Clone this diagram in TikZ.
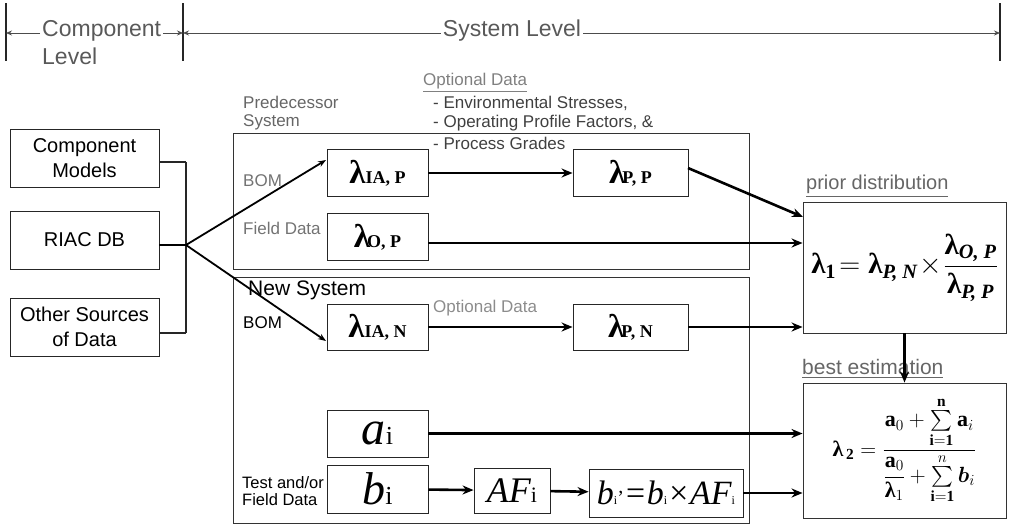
\RequirePackage{fix-cm}
\documentclass[tikz,border=0pt]{standalone}
\usepackage{amsmath}
\usepackage{fontspec}
\setmainfont{Liberation Serif}
\newfontfamily\arial{Liberation Sans}
\usetikzlibrary{arrows.meta}
\newcommand{\fs}[1]{\fontsize{#1}{#1}\selectfont}
\newcommand{\fsb}[2]{\fontsize{#1}{#2}\selectfont}
\newcommand{\lamsub}[2][0pt]{{\fs{33}\bfseries λ}\kern#1{\fs{18}\bfseries #2}}
\newcommand{\Lb}{\text{\bfseries λ}}
\tikzset{
  hdr/.style={font=\arial\fs{23}, text=black!65, inner sep=2pt},
  lbl/.style={font=\arial\fs{17}, inner sep=0pt, anchor=west, align=left},
  srcbox/.style={draw=black!85, line width=0.9pt, minimum width=149pt, minimum height=58pt, font=\arial\fsb{20}{25}, align=center, inner sep=0pt},
  mbox/.style={draw=black!85, line width=0.9pt, inner sep=0pt, minimum height=47pt},
  frame/.style={draw=black!80, line width=0.9pt, inner sep=0pt},
  hline/.style={line width=0.8pt, draw=black!70, -{Stealth[length=6pt,width=5pt]}},
  bar/.style={line width=1.6pt, draw=black!85},
  thinconn/.style={line width=1.5pt, draw=black!85},
  conn/.style={line width=2.6pt, draw=black, -{Stealth[length=11pt,width=9pt]}},
  fanconn/.style={line width=1.8pt, draw=black, -{Stealth[length=8pt,width=6pt]}}
}
\begin{document}
\begin{tikzpicture}[x=1pt,y=-1pt]
\useasboundingbox (0,0) rectangle (1012,528);
% ---------- header ----------
\coordinate (b1t) at (6,3);   \coordinate (b1b) at (6,61);   \coordinate (b1m) at (6,33);
\coordinate (b2t) at (183,3); \coordinate (b2b) at (183,61); \coordinate (b2m) at (183,33);
\coordinate (b3t) at (1000,3);\coordinate (b3b) at (1000,61);\coordinate (b3m) at (1000,33);
\draw[bar] (b1t) -- (b1b);
\draw[bar] (b2t) -- (b2b);
\draw[bar] (b3t) -- (b3b);
\node[hdr, anchor=west] (compL) at (40,31) {Component};
\node[hdr, anchor=west] (compL2) at (40,56) {Level};
\node[hdr] (sysL) at (512,31) {System Level};
\draw[hline] (compL.west |- b1m) -- (b1m);
\draw[hline] (compL.east |- b2m) -- (b2m);
\draw[hline] (sysL.west |- b2m) -- (b2m);
\draw[hline] (sysL.east |- b3m) -- (b3m);
% ---------- source boxes ----------
\node[srcbox] (cm) at (84.5,158) {Component\\Models};
\node[srcbox] (riac) at (84.5,240) {RIAC DB};
\node[srcbox] (other) at (84.5,327) {Other Sources\\of Data};
\coordinate (busT) at (186,162);
\coordinate (busM) at (186,245);
\coordinate (busB) at (186,333);
\draw[thinconn] (cm.east |- busT) -- (busT);
\draw[thinconn] (other.east |- busB) -- (busB);
\draw[thinconn] (busT) -- (busB);
\draw[line width=2pt] (riac.east |- busM) -- (busM);
% ---------- frames ----------
\node[frame, minimum width=516pt, minimum height=136pt] (pred) at (491,201) {};
\node[frame, minimum width=516pt, minimum height=246pt] (newsys) at (491,400) {};
\node[lbl, anchor=north west, text=black!60, font=\arial\fsb{17}{18}] (predL) at (243,96) {Predecessor\\System};
\node[lbl, text=black!50, font=\arial\fs{17}] (optU) at (423,83) {\underline{Optional Data}};
\node[lbl, text=black!75] (env) at (433,103) {- Environmental Stresses,};
\node[lbl, text=black!75] (opf) at (433,123) {- Operating Profile Factors, \&};
\node[lbl, text=black!75] (pgr) at (433,143) {- Process Grades};
\node[lbl, text=black!55] (bomU) at (243,181) {BOM};
\node[lbl, text=black!55] (fdU) at (243,228) {Field Data};
\node[lbl, font=\arial\fs{21}] (newL) at (248,290) {New System};
\node[lbl] (bomN) at (243,323) {BOM};
\node[lbl, text=black!45] (optN) at (433,308) {Optional Data};
\node[lbl, font=\arial\fsb{16.5}{17}] (tfd) at (242,491) {Test and/or\\Field Data};
% ---------- lambda boxes ----------
\node[mbox, minimum width=101pt] (lIAP) at (377.5,173) {\lamsub{IA, P}};
\node[mbox, minimum width=115pt] (lPP) at (630.5,173) {\lamsub[-3pt]{P, P}};
\node[mbox, minimum width=101pt] (lOP) at (377.5,237) {\lamsub[-3pt]{O, P}};
\node[mbox, minimum width=101pt, minimum height=46pt] (lIAN) at (377.5,327) {\lamsub{IA, N}};
\node[mbox, minimum width=115pt, minimum height=46pt] (lPN) at (630.5,327) {\lamsub[-3pt]{P, N}};
\node[mbox, minimum width=101pt] (ai) at (377.5,433.5) {{\fs{48}\itshape a}{\fs{26}i}};
\node[mbox, minimum width=101pt, minimum height=48pt] (bi) at (377.5,489) {{\fs{46}\itshape b}{\fs{26}i}};
\node[mbox, minimum width=76pt, minimum height=45pt] (afi) at (512,490.5) {{\fs{36}\itshape AF}{\fs{22}i}};
\node[mbox, minimum width=154pt, minimum height=48pt] (bpi) at (666,493) {\fs{34}\itshape b{\fs{12}\upshape i}{\fs{20}\upshape '}=b{\fs{12}\upshape i}×AF{\fs{12}\upshape i}};
% ---------- result boxes ----------
\node[lbl, text=black!60, font=\arial\fs{20}] (priorL) at (806,186) {\underline{prior distribution}};
\node[lbl, text=black!60, font=\arial\fs{21}] (bestL) at (802,369) {\underline{best estimation}};
\node[frame, minimum width=203pt, minimum height=131pt] (prior) at (904.5,267.5)
  {\fs{29}$\Lb_{\text{\bfseries 1}}\!=\Lb_{\text{\bfseries\itshape P, N}}\!\times\!\dfrac{\Lb_{\text{\bfseries\itshape O, P}}}{\Lb_{\text{\bfseries\itshape P, P}}}$};
\node[frame, minimum width=203pt, minimum height=135pt] (best) at (904.5,450.5)
  {\fs{22}$\Lb_{\,\text{\bfseries 2}} = \dfrac{\text{\bfseries a}_{0}+\sum\limits_{\mathbf{i=1}}^{\mathbf{n}}\text{\bfseries a}_{i}}{\dfrac{\text{\bfseries a}_{0}}{\Lb_{1}}+\sum\limits_{\mathbf{i=1}}^{n}\boldsymbol{b}_{i}}$};
% ---------- connectors ----------
\coordinate (iaPin) at (326,160);
\coordinate (iaNin) at (326,341);
\draw[fanconn] (busM) -- (iaPin);
\draw[fanconn] (busM) -- (iaNin);
\draw[conn] (lIAP) -- (lPP);
\coordinate (ppOut) at (688,168);
\coordinate (prIn1) at (803,217);
\draw[conn] (ppOut) -- (prIn1);
\coordinate (opOut) at (428,243);
\draw[conn] (opOut) -- (prior.west |- opOut);
\draw[conn] (lIAN) -- (lPN);
\draw[conn] (lPN.east) -- (prior.west |- lPN.east);
\draw[conn] (prior.south) -- (best.north);
\draw[conn] (ai.east) -- (best.west |- ai.east);
\draw[conn] (bi) -- (afi);
\draw[conn] (afi) -- (bpi);
\draw[conn] (bpi.east) -- (best.west |- bpi.east);
\end{tikzpicture}
\end{document}
